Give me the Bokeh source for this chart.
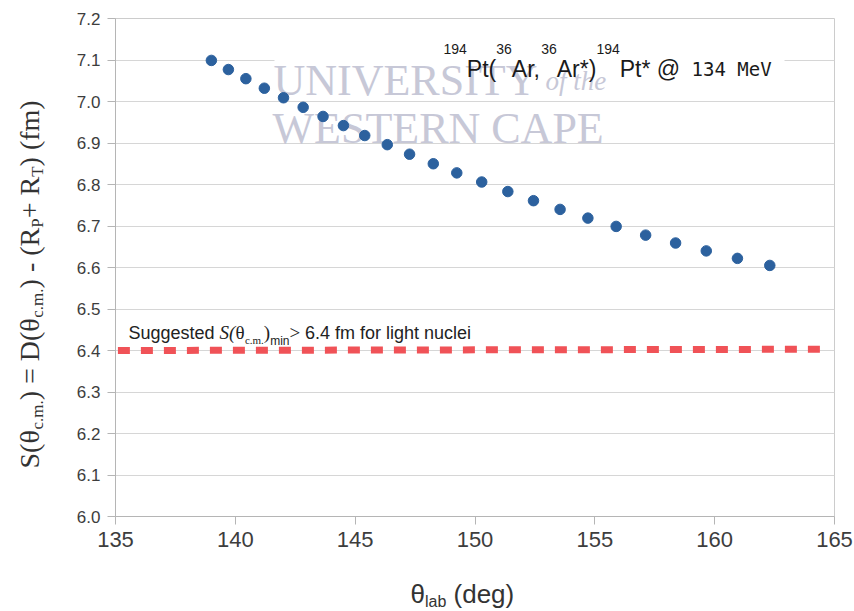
import math
from bokeh.plotting import figure
from bokeh.layouts import row, column
from bokeh.models import Label, Range1d, FixedTicker, BoxAnnotation
from bokeh.embed import file_html
from bokeh.resources import INLINE

# ---------------- data ----------------
theta_lab = [139.00, 139.71, 140.44, 141.21, 142.01, 142.83, 143.66, 144.51,
             145.40, 146.34, 147.27, 148.26, 149.24, 150.28, 151.37, 152.44,
             153.55, 154.71, 155.89, 157.12, 158.37, 159.65, 160.95, 162.30]
s_sep = [7.099, 7.077, 7.055, 7.032, 7.009, 6.986, 6.964, 6.942,
         6.918, 6.896, 6.873, 6.850, 6.828, 6.806, 6.783, 6.761,
         6.740, 6.719, 6.699, 6.678, 6.659, 6.640, 6.622, 6.605]
limit_theta = [135.1, 164.5]
limit_s = [6.400, 6.403]
x_ticks = [135, 140, 145, 150, 155, 160, 165]
y_ticks = [6.0, 6.1, 6.2, 6.3, 6.4, 6.5, 6.6, 6.7, 6.8, 6.9, 7.0, 7.1, 7.2]
y_tick_labels = ["6.0", "6.1", "6.2", "6.3", "6.4", "6.5", "6.6", "6.7",
                 "6.8", "6.9", "7.0", "7.1", "7.2"]

# ---------------- geometry (page pixels) ----------------
W, H = 854, 611
LEFT_W = 60                      # strip holding the y-axis title
L, R, T, B = 115, 834, 18, 516   # plot frame
MAIN_H = 564
X0, X1, Y0, Y1 = 135.0, 165.0, 6.0, 7.2


def main_conv(px, py):
    return (X0 + (px - L) * (X1 - X0) / (R - L),
            Y0 + (B - py) * (Y1 - Y0) / (B - T))


def left_conv(px, py):
    return px, H - py


def bottom_conv(px, py):
    return px, H - py


SANS = "Liberation Sans"
SERIF = "Liberation Serif"
MONO = "DejaVu Sans Mono"

ARIAL = {' ': 278, '(': 333, ')': 333, '*': 389, '+': 584, ',': 278, '-': 333,
         '.': 278, '=': 584, '>': 584, '@': 1015, 'A': 667, 'D': 722, 'M': 833,
         'P': 667, 'R': 722, 'S': 667, 'T': 611, 'V': 667, 'a': 556, 'b': 556,
         'c': 500, 'd': 556, 'e': 556, 'f': 278, 'g': 556, 'h': 556, 'i': 222,
         'l': 222, 'm': 833, 'n': 556, 'o': 556, 'r': 333, 's': 500, 't': 278,
         'u': 556, 'v': 500, 'θ': 556}
TIMES = {' ': 250, '(': 333, ')': 333, '+': 564, '-': 333, '.': 250, '=': 564,
         '>': 564, 'D': 722, 'P': 556, 'R': 667, 'S': 556, 'T': 611, 'c': 444,
         'f': 333, 'm': 778, 'i': 278, 'n': 500, 'θ': 500}
TIMES_IT = {'S': 500, '(': 333, ')': 333}


def text_width(text, font, size, style):
    if font == MONO:
        return len(text) * 0.602 * size
    if font == SERIF:
        tab = TIMES_IT if style == "italic" else TIMES
        return sum(tab.get(c, TIMES.get(c, 500)) for c in text) / 1000 * size
    return sum(ARIAL.get(c, 556) for c in text) / 1000 * size


def run(fig, conv, pieces, x_px, y_px, angle=0.0, color="#222222",
        level="annotation"):
    cur = x_px if angle == 0 else y_px
    for text, font, size, style, shift in pieces:
        lead = len(text) - len(text.lstrip(" "))
        lead_w = text_width(" " * lead, font, size, style)
        shown = text.strip(" ")
        if angle == 0:
            lx, ly = conv(cur + lead_w, y_px + shift)
        else:
            lx, ly = conv(x_px + shift, cur - lead_w)
        fig.add_layout(Label(x=lx, y=ly, text=shown, text_font=font,
                             text_font_size=f"{size}px", text_font_style=style,
                             text_color=color, text_baseline="alphabetic",
                             text_align="left", angle=angle, level=level))
        w = text_width(text, font, size, style)
        cur = cur + w if angle == 0 else cur - w


# ---------------- main plot ----------------
p = figure(width=W - LEFT_W, height=MAIN_H, title=None,
           x_range=Range1d(X0, X1), y_range=Range1d(Y0, Y1),
           output_backend="svg", toolbar_location=None,
           min_border_left=L - LEFT_W, min_border_right=W - R,
           min_border_top=T, min_border_bottom=MAIN_H - B)
p.background_fill_color = "white"
p.border_fill_color = "white"
p.outline_line_color = "#cccccc"

p.xgrid.grid_line_color = None
p.ygrid.grid_line_color = "#d6d6d6"
p.ygrid.ticker = FixedTicker(ticks=y_ticks)

p.xaxis.ticker = FixedTicker(ticks=x_ticks)
p.yaxis.ticker = FixedTicker(ticks=y_ticks)
p.yaxis.major_label_overrides = {v: s for v, s in zip(y_ticks, y_tick_labels)}
for ax in (p.xaxis, p.yaxis):
    ax.axis_line_color = "#b5b5b5"
    ax.major_tick_line_color = "#b5b5b5"
    ax.major_tick_out = 8
    ax.major_tick_in = 0
    ax.minor_tick_line_color = None
    ax.major_label_text_font = SANS
    ax.major_label_text_color = "#3d3d3d"
p.xaxis.major_label_text_font_size = "22px"
p.xaxis.major_label_standoff = 7
p.yaxis.major_label_text_font_size = "17px"
p.yaxis.major_label_standoff = 7

# white mask behind watermark / reaction text (hides the 7.1 grid line)
bl, bt = main_conv(274, 44)
br, bb = main_conv(784, 76)
p.add_layout(BoxAnnotation(left=bl, right=br, top=bt, bottom=bb,
                           fill_color="white", fill_alpha=1.0, line_alpha=0,
                           level="underlay"))

# watermark
wm = "#c7c8d7"
run(p, main_conv, [("UNIVERSITY", SERIF, 44, "normal", 0)], 273, 80,
    color=wm, level="underlay")
run(p, main_conv, [("of the", SERIF, 27, "italic", 0)], 545, 80,
    color=wm, level="underlay")
run(p, main_conv, [("WESTERN CAPE", SERIF, 44, "normal", 0)], 272, 128,
    color=wm, level="underlay")

# data
p.line(limit_theta, limit_s, line_color="#f05257", line_width=7,
       line_dash="12 11", line_cap="butt")
p.scatter(theta_lab, s_sep, size=10.5, fill_color="#2c619e",
          line_color="#2c619e")

# reaction label
run(p, main_conv,
    [("194", SANS, 14, "normal", -20), ("Pt(", SANS, 23, "normal", 0),
     ("36", SANS, 14, "normal", -20), ("Ar,", SANS, 23, "normal", 0),
     ("36", SANS, 14, "normal", -20), ("Ar*)", SANS, 23, "normal", 0),
     ("194", SANS, 14, "normal", -20), ("Pt* @", SANS, 23, "normal", 0),
     (" 134 MeV", MONO, 19, "normal", 0)],
    443, 68, color="#1a1a1a")

# suggested-limit label
run(p, main_conv,
    [("Suggested ", SANS, 18, "normal", 0), ("S(", SERIF, 19, "italic", 0),
     ("θ", SERIF, 19, "normal", 0), ("c.m.", SERIF, 11, "normal", 7),
     (")", SERIF, 19, "normal", 0), ("min", SANS, 12, "normal", 8),
     ("> ", SERIF, 19, "normal", 0),
     ("6.4 fm for light nuclei", SANS, 18, "normal", 0)],
    128, 332, color="#222222")

# ---------------- y-axis title strip ----------------
left = figure(width=LEFT_W, height=H, title=None, x_range=Range1d(0, LEFT_W),
              y_range=Range1d(0, H), x_axis_type=None, y_axis_type=None,
              output_backend="svg", toolbar_location=None, min_border=0)
left.outline_line_color = None
left.background_fill_color = "white"
left.border_fill_color = "white"
run(left, left_conv,
    [("S(θ", SERIF, 28, "normal", 0), ("c.m.", SERIF, 17, "normal", 8),
     (") = D(θ", SERIF, 28, "normal", 0), ("c.m.", SERIF, 17, "normal", 8),
     (") - (R", SERIF, 28, "normal", 0), ("P", SERIF, 17, "normal", 8),
     ("+ R", SERIF, 28, "normal", 0), ("T", SERIF, 17, "normal", 8),
     (") (fm)", SERIF, 28, "normal", 0)],
    29, 468, angle=math.pi / 2, color="#333333")

# ---------------- x-axis title strip (frame is aligned with main frame) ----
bottom = figure(width=W - LEFT_W, height=H - MAIN_H, title=None,
                x_range=Range1d(L, R), y_range=Range1d(0, H - MAIN_H),
                x_axis_type=None, y_axis_type=None,
                output_backend="svg", toolbar_location=None, min_border=0)
bottom.outline_line_color = None
bottom.background_fill_color = "white"
bottom.border_fill_color = "white"
run(bottom, bottom_conv,
    [("θ", SANS, 26, "normal", 0), ("lab", SANS, 16, "normal", 8),
     (" (deg)", SANS, 26, "normal", 0)],
    410, 593, color="#333333")

layout = row(left, column(p, bottom, spacing=0), spacing=0)
open("out.html", "w").write(file_html(layout, INLINE))
